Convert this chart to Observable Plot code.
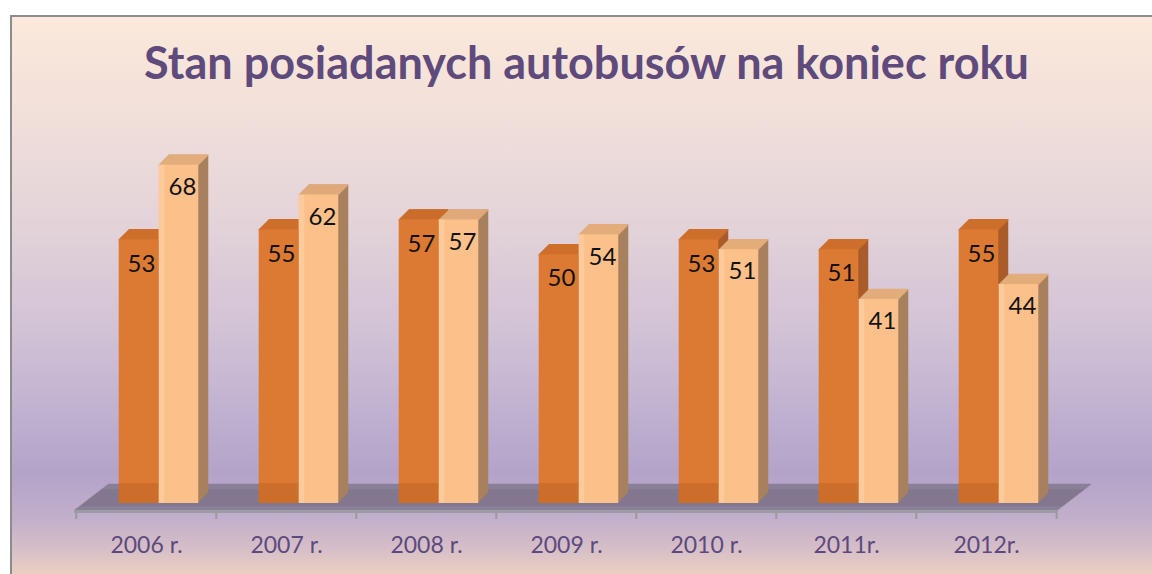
<!DOCTYPE html>
<html>
<head>
<meta charset="utf-8">
<script src="https://cdn.jsdelivr.net/npm/d3@7"></script>
<script src="https://cdn.jsdelivr.net/npm/@observablehq/plot@0.6"></script>
<style>
  html, body { margin: 0; padding: 0; background: #ffffff; overflow: hidden; }
  #page { position: relative; width: 1152px; height: 574px; overflow: hidden; }
  #frame {
    position: absolute; left: 10px; top: 15px; width: 1160px; height: 570px;
    border-left: 2px solid #8c8c8c; border-top: 2px solid #8c8c8c;
    background: linear-gradient(to bottom,
      #fce9db 0%, #f3e1da 14%, #e4d4d9 35%, #d2c2d6 55%, #bfb0d0 70%,
      #b3a3c9 80%, #c2afcb 88%, #d9c1c7 94%, #f3d5c0 99%, #f5d7bf 100%);
  }
  #title {
    position: absolute; left: 0; width: 1173px; top: 40px; text-align: center;
    font-family: Lato, "Open Sans", sans-serif; font-weight: 700; font-size: 45px;
    color: #5f4a7c; line-height: 1; white-space: nowrap;
  }
  #chart { position: absolute; left: 0; top: 0; }
</style>
</head>
<body>
<div id="page">
  <div id="frame"></div>
  <div id="title">Stan posiadanych autobusów na koniec roku</div>
  <div id="chart"></div>
</div>
<script>
// ---- data ----
const years = ["2006 r.", "2007 r.", "2008 r.", "2009 r.", "2010 r.", "2011r.", "2012r."];
const seriesA = [53, 55, 57, 50, 53, 51, 55];
const seriesB = [68, 62, 57, 54, 51, 41, 44];

const rows = years.map((year, i) => ({year, a: seriesA[i], b: seriesB[i]}));

// ---- styling constants ----
const W = 1152, H = 574;
const mL = 74, mR = 95, mT = 105, mB = 71;
const band = (W - mL - mR) / years.length;
const barW = 40;
const aLeft = 42.7, bLeft = aLeft + barW;
const ins = (left) => ({insetLeft: left, insetRight: band - left - barW});
const depth = d3.range(1, 11);
const depth0 = d3.range(0, 11);

const darkFront = "#dc7a33", darkTop = "#cd6f2b", darkSide = "#a95d2a";
const lightFront = "#fcc08b", lightTop = "#e3ad7b", lightSide = "#a8805e";

function bar3d(key, left, front, top, side) {
  return [
    depth.slice().reverse().map(k =>
      Plot.barY(rows, {x: "year", y: key, ...ins(left), fill: side, dx: k, dy: -k})),
    depth0.map(k =>
      Plot.tickY(rows, {x: "year", y: key, ...ins(left), stroke: top, strokeWidth: 1.6, dx: k, dy: -k})),
    Plot.barY(rows, {x: "year", y: key, ...ins(left), fill: front}),
  ];
}

// floor parallelogram made of offset rules
const floorSteps = d3.range(0, 27);
const floor = floorSteps.map(k =>
  Plot.ruleY([0], {stroke: k > 4 && k < 22 ? "#82778f" : "#8a7f98", strokeWidth: 1.5, dx: k * 1.3, dy: 7 - k}));

const chart = Plot.plot({
  width: W, height: H,
  marginLeft: mL, marginRight: mR, marginTop: mT, marginBottom: mB,
  x: {domain: years, padding: 0, tickSize: 0, tickPadding: 33, label: null},
  y: {domain: [0, 80], axis: null},
  style: {fontFamily: "Lato, 'Open Sans', sans-serif", fontSize: "23px", color: "#5c4a7e", background: "transparent", overflow: "visible"},
  marks: [
    floor,
    Plot.ruleY([0], {stroke: "#9c9ca4", strokeWidth: 3, dy: 8}),
    Plot.ruleX(years, {x: d => d, dx: -band / 2, y1: -1.4, y2: -3.2, stroke: "#9a9a9e", strokeWidth: 2}),
    Plot.ruleX([years[years.length - 1]], {x: d => d, dx: band / 2, y1: -1.4, y2: -3.2, stroke: "#9a9a9e", strokeWidth: 2}),
    bar3d("a", aLeft, darkFront, darkTop, darkSide),
    Plot.barY(rows, {x: "year", y1: 0, y2: 4, ...ins(aLeft), fill: "#b0561a", fillOpacity: 0.35}),
    bar3d("b", bLeft, lightFront, lightTop, lightSide),
    Plot.barY(rows, {x: "year", y: "b", ...ins(bLeft), insetRight: band - bLeft - 6, fill: "#fdd1a6", fillOpacity: 0.6}),
    Plot.text(rows, {x: "year", y: "a", text: d => String(d.a), dx: -5, dy: 24, fill: "#111", fontSize: 24}),
    Plot.text(rows, {x: "year", y: "b", text: d => String(d.b), dx: 36, dy: 22, fill: "#111", fontSize: 24}),
  ]
});
document.getElementById("chart").appendChild(chart);
</script>
</body>
</html>
